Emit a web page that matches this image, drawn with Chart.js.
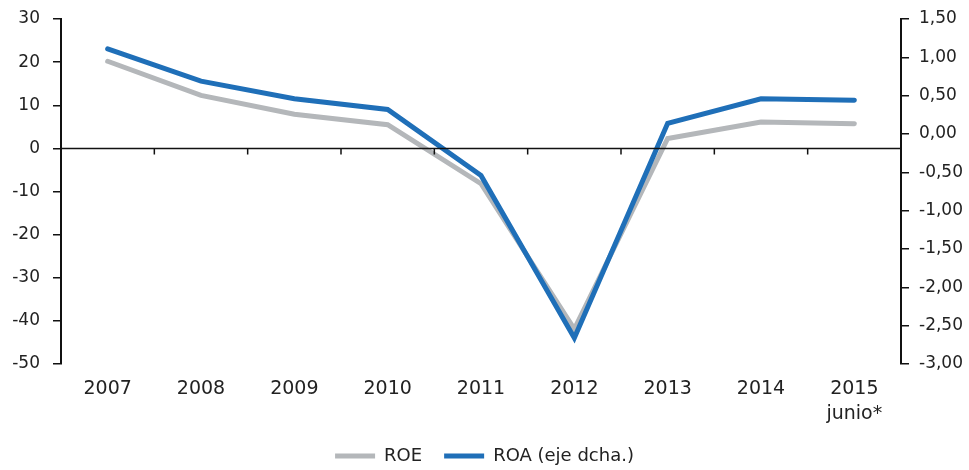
<!DOCTYPE html>
<html>
<head>
<meta charset="utf-8">
<script src="https://cdn.jsdelivr.net/npm/chart.js@4.4.1/dist/chart.umd.min.js"></script>
<style>
  html, body { margin: 0; padding: 0; background: #fff; }
  #wrap { width: 969px; height: 470px; }
</style>
</head>
<body>
<div id="wrap"><canvas id="grafico"></canvas></div>
<script>
// DATOS
const anios = ["2007", "2008", "2009", "2010", "2011", "2012", "2013", "2014", ["2015", "junio*"]];
const roe = [20.2, 12.3, 7.9, 5.5, -8.2, -41.9, 2.3, 6.1, 5.7];
const roa = [1.11, 0.69, 0.46, 0.32, -0.54, -2.66, 0.14, 0.46, 0.44];
const ejeIzq = { min: -50, max: 30, paso: 10 };
const ejeDer = { min: -3, max: 1.5, paso: 0.5 };

const gris = "#b4b7ba";
const azul = "#1f6fb8";
const fuente = "'DejaVu Sans', sans-serif";

// linea del cero con sus marcas entre categorias
const lineaCero = {
  id: "lineaCero",
  afterDatasetsDraw(chart) {
    const { ctx, chartArea, scales } = chart;
    const y0 = scales.y.getPixelForValue(0);
    ctx.save();
    ctx.strokeStyle = "#111";
    ctx.lineWidth = 1.5;
    ctx.beginPath();
    ctx.moveTo(chartArea.left, y0);
    ctx.lineTo(chartArea.right, y0);
    for (let i = 0; i < anios.length - 1; i++) {
      const x = (scales.x.getPixelForValue(i) + scales.x.getPixelForValue(i + 1)) / 2;
      ctx.moveTo(x, y0);
      ctx.lineTo(x, y0 + 6);
    }
    ctx.stroke();
    ctx.restore();
  }
};

function fijarAncho(ancho) {
  return a => { a.width = ancho; a.paddingTop = 0; a.paddingBottom = 0; };
}

new Chart(document.getElementById("grafico").getContext("2d"), {
  type: "line",
  data: {
    labels: anios,
    datasets: [
      { label: "ROE", data: roe, yAxisID: "y", borderColor: gris, backgroundColor: gris,
        borderWidth: 5, pointRadius: 0, borderCapStyle: "round", tension: 0, order: 1 },
      { label: "ROA (eje dcha.)", data: roa, yAxisID: "y1", borderColor: azul, backgroundColor: azul,
        borderWidth: 5, pointRadius: 0, borderCapStyle: "round", tension: 0, order: 0 }
    ]
  },
  options: {
    responsive: true,
    maintainAspectRatio: false,
    animation: false,
    layout: { padding: { top: 19, left: 0, right: 0, bottom: -5 } },
    plugins: {
      tooltip: { enabled: false },
      legend: {
        position: "bottom",
        labels: {
          usePointStyle: true,
          pointStyle: "line",
          pointStyleWidth: 40,
          padding: 22,
          color: "#222",
          font: { family: fuente, size: 18 },
          sort: (a, b) => a.datasetIndex - b.datasetIndex
        }
      }
    },
    scales: {
      x: {
        offset: true,
        grid: { display: false, drawTicks: false },
        border: { display: false },
        ticks: { color: "#222", padding: 13, maxRotation: 0, autoSkip: false,
                 font: { family: fuente, size: 19, lineHeight: 1.3 } },
        afterFit: a => { a.height = 61; }
      },
      y: {
        position: "left",
        min: ejeIzq.min, max: ejeIzq.max,
        ticks: { stepSize: ejeIzq.paso, color: "#222", padding: 13,
                 font: { family: fuente, size: 17 } },
        grid: { drawOnChartArea: false, drawTicks: true, tickLength: 8, color: "#111", lineWidth: 1.5 },
        border: { display: true, color: "#111", width: 2 },
        afterFit: fijarAncho(61)
      },
      y1: {
        position: "right",
        min: ejeDer.min, max: ejeDer.max,
        ticks: { stepSize: ejeDer.paso, color: "#222", padding: 10,
                 font: { family: fuente, size: 17 },
                 callback: v => v.toFixed(2).replace(".", ",") },
        grid: { drawOnChartArea: false, drawTicks: true, tickLength: 8, color: "#111", lineWidth: 1.5 },
        border: { display: true, color: "#111", width: 2 },
        afterFit: fijarAncho(68)
      }
    }
  },
  plugins: [lineaCero]
});
</script>
</body>
</html>
